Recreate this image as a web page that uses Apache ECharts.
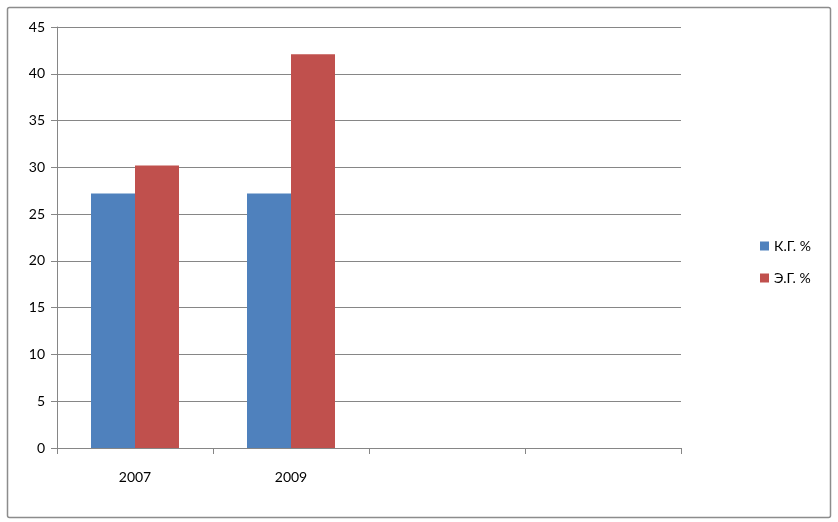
<!DOCTYPE html>
<html><head><meta charset="utf-8">
<script src="https://cdn.jsdelivr.net/npm/echarts@6/dist/echarts.min.js"></script>
<style>html,body{margin:0;padding:0;background:#fff}#c{width:838px;height:522px}</style>
</head><body><div id="c"></div>
<script>
const categories = ['2007', '2009', '', ''];
const seriesNames = ['К.Г. %', 'Э.Г. %'];
const kgValues = [27.2, 27.2, null, null];
const egValues = [30.2, 42.1, null, null];
const yTicks = [0, 5, 10, 15, 20, 25, 30, 35, 40, 45];

const chart = echarts.init(document.getElementById('c'), null, {renderer: 'canvas'});
const font = 'Lato, "DejaVu Sans", sans-serif';
chart.setOption({
  animation: false,
  backgroundColor: '#ffffff',
  graphic: [{
    type: 'rect', shape: {x: 7.5, y: 7.5, width: 823, height: 510, r: 2},
    style: {fill: 'none', stroke: '#8c8c8c', lineWidth: 1.5}, silent: true
  }],
  grid: {left: 57, right: 157, top: 27, bottom: 74, containLabel: false},
  legend: {
    orient: 'vertical', left: 755, top: 234, itemGap: 18,
    itemWidth: 9, itemHeight: 9, icon: 'rect',
    textStyle: {fontFamily: font, fontSize: 14, color: '#000'},
    data: seriesNames
  },
  xAxis: {
    type: 'category', data: categories,
    axisLine: {lineStyle: {color: '#868686', width: 1}},
    axisTick: {show: true, length: 6, alignWithLabel: false, lineStyle: {color: '#868686'}},
    axisLabel: {fontFamily: font, fontSize: 14, color: '#000', margin: 22}
  },
  yAxis: {
    type: 'value', min: yTicks[0], max: yTicks[yTicks.length - 1], interval: 5,
    axisLine: {show: true, lineStyle: {color: '#868686', width: 1}},
    axisTick: {show: true, length: 6, lineStyle: {color: '#868686'}},
    axisLabel: {fontFamily: font, fontSize: 14, color: '#000', margin: 12},
    splitLine: {lineStyle: {color: '#868686', width: 1}}
  },
  series: [
    {name: seriesNames[0], type: 'bar', data: kgValues, barWidth: 44, barGap: '0%',
     itemStyle: {color: '#4f81bd'}},
    {name: seriesNames[1], type: 'bar', data: egValues, barWidth: 44, barGap: '0%',
     itemStyle: {color: '#c0504d'}}
  ]
});
</script></body></html>
